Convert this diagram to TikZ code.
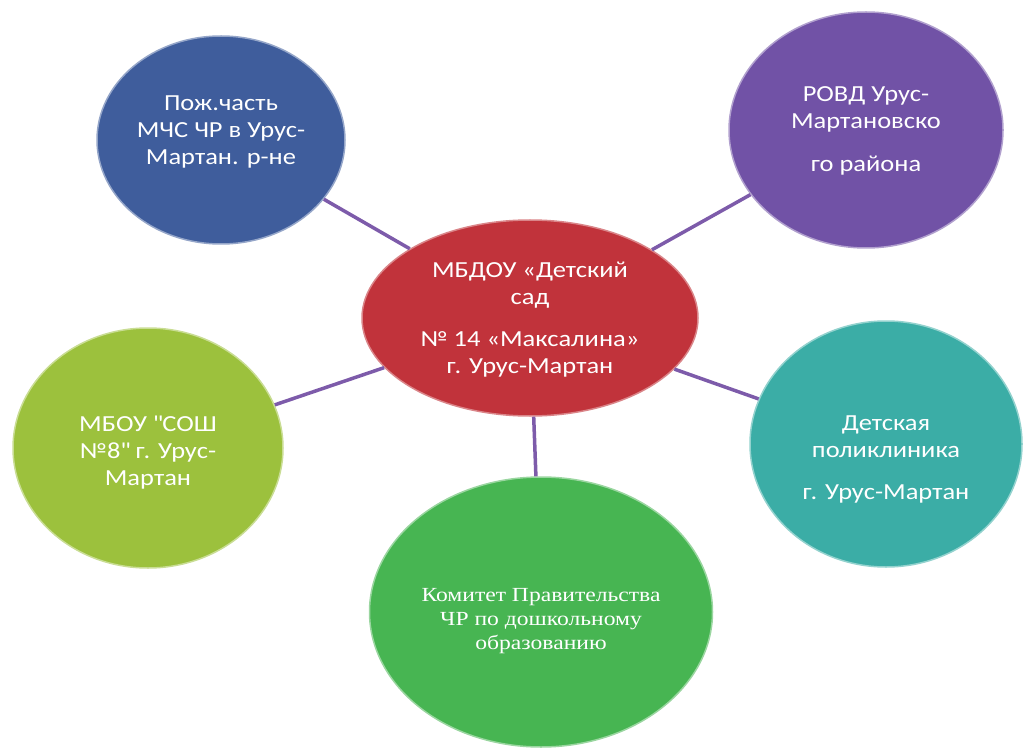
\documentclass[tikz,border=0pt]{standalone}
\usepackage{fontspec}
\setmainfont[FakeStretch=1.15]{Carlito}
\newfontfamily\timesfont[FakeStretch=1.18]{Liberation Serif}
\usetikzlibrary{shapes.geometric}
\definecolor{fireblue}{HTML}{3F5D9C}
\definecolor{policeviolet}{HTML}{7152A6}
\definecolor{gardenred}{HTML}{C1333B}
\definecolor{schoollime}{HTML}{9CC13D}
\definecolor{clinicteal}{HTML}{3BADA6}
\definecolor{committeegreen}{HTML}{47B552}
\definecolor{linkviolet}{HTML}{7D5BAA}

\begin{document}
\begin{tikzpicture}[x=1pt,y=-1pt,
    bubble/.style={ellipse, inner sep=0pt, line width=1.5pt},
    caption/.style={text=white, align=center, inner sep=0pt,
      font=\fontsize{23}{27}\selectfont},
    link/.style={draw=linkviolet, line width=3.5pt}]
  \useasboundingbox (0,0) rectangle (1023,754);
  % центр
  \node[bubble, fill=gardenred, draw=gardenred!60!white,
    minimum width=336pt, minimum height=196pt] (garden) at (530,318) {};
  \node[caption] (garden text) at ([yshift=-2pt]garden.center)
    {МБДОУ «Детский\\сад\\[15pt]№ 14 «Максалина»\\г. Урус-Мартан};
  % вокруг
  \node[bubble, fill=fireblue, draw=fireblue!55!white,
    minimum width=248pt, minimum height=208pt] (fire) at (221,140) {};
  \node[caption] (fire text) at ([yshift=8pt]fire.center)
    {Пож.часть\\МЧС ЧР в Урус-\\Мартан. р-не};
  \node[bubble, fill=policeviolet, draw=policeviolet!55!white,
    minimum width=274pt, minimum height=236pt] (police) at (866,130) {};
  \node[caption] (police text) at ([yshift=-1pt]police.center)
    {РОВД Урус-\\Мартановско\\[16pt]го района};
  \node[bubble, fill=schoollime, draw=schoollime!55!white,
    minimum width=270pt, minimum height=240pt] (school) at (148,448) {};
  \node[caption] (school text) at ([yshift=-5pt]school.center)
    {МБОУ \textquotedbl СОШ\\№8\textquotedbl{} г. Урус-\\Мартан};
  \node[bubble, fill=clinicteal, draw=clinicteal!55!white,
    minimum width=272pt, minimum height=246pt] (clinic) at (886,444) {};
  \node[caption] (clinic text) at ([yshift=-15pt]clinic.center)
    {Детская\\поликлиника\\[15pt]г. Урус-Мартан};
  \node[bubble, fill=committeegreen, draw=committeegreen!55!white,
    minimum width=343pt, minimum height=270pt] (committee) at (541,612) {};
  \node[caption, font=\timesfont\fontsize{20}{24}\selectfont]
    (committee text) at ([yshift=-9pt]committee.center)
    {Комитет Правительства\\ЧР по дошкольному\\образованию};
  % связи
  \draw[link] (fire) -- (garden);
  \draw[link] (police) -- (garden);
  \draw[link] (school) -- (garden);
  \draw[link] (clinic) -- (garden);
  \draw[link] (committee) -- (garden);
\end{tikzpicture}
\end{document}
